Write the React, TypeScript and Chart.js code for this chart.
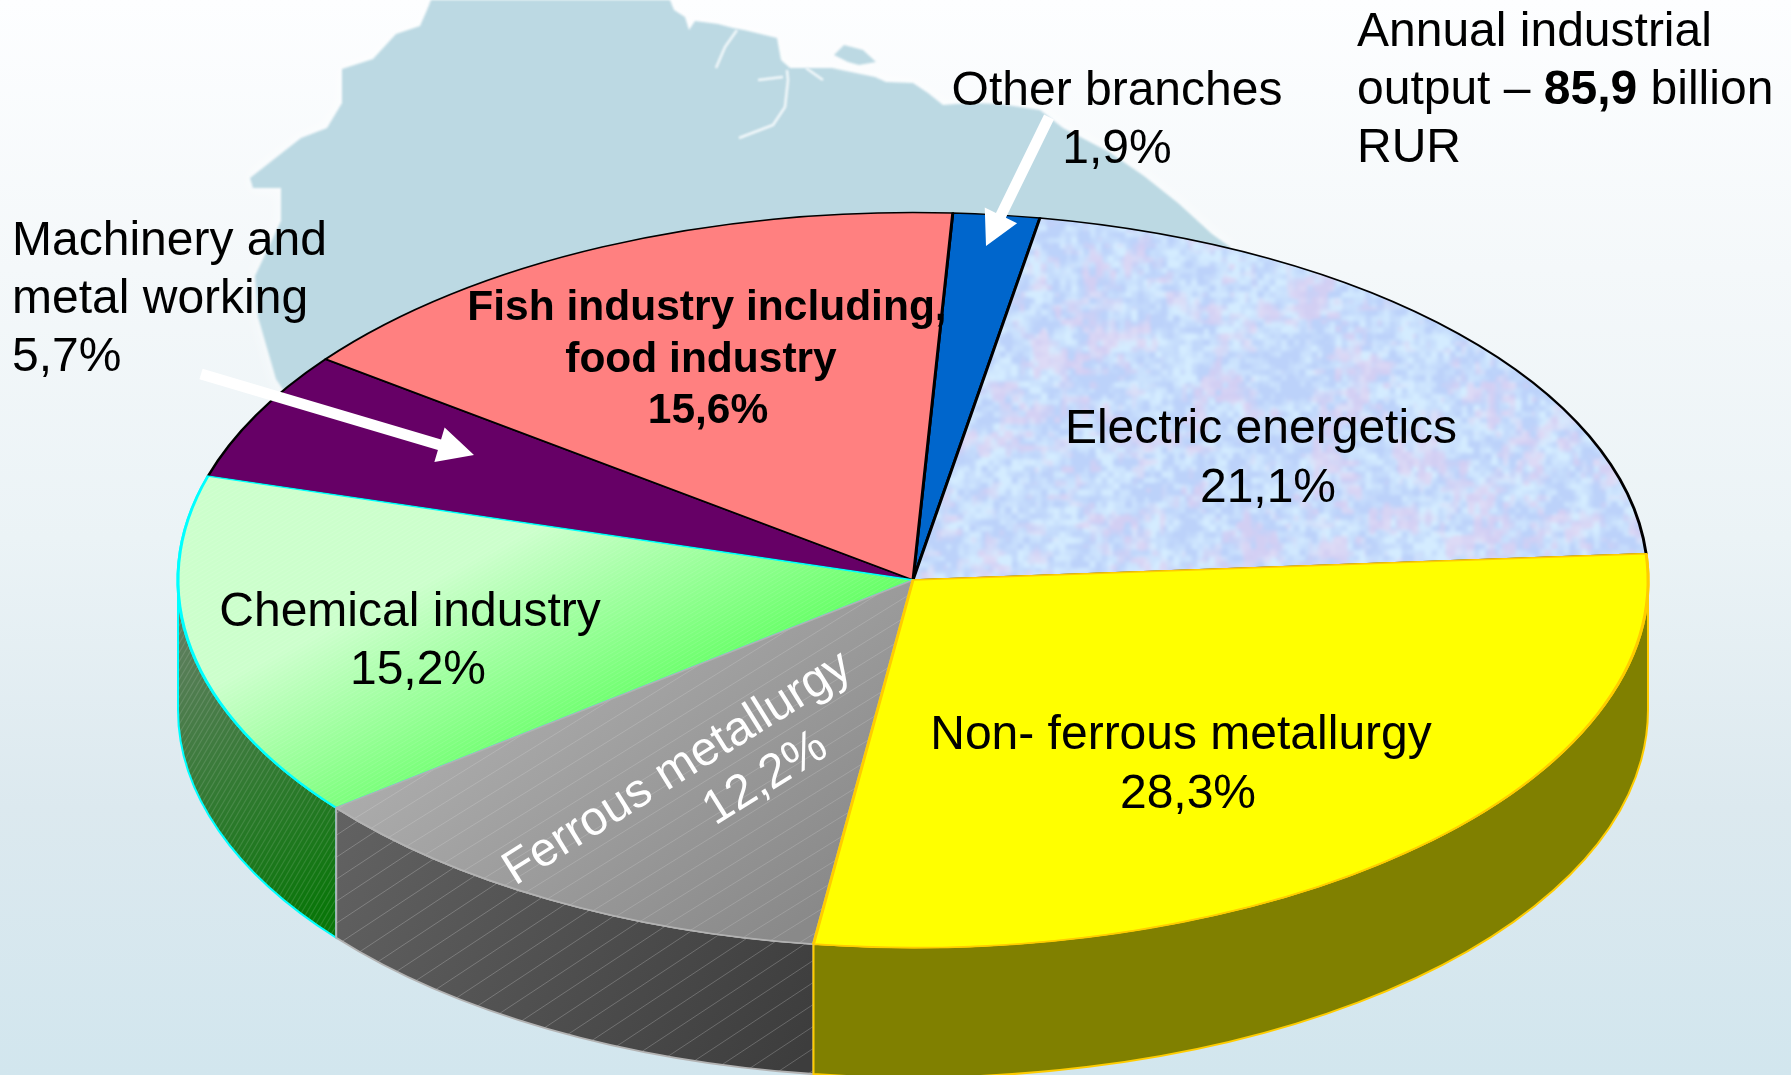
import React, { useEffect, useRef } from "react";
import { Chart, registerables } from "chart.js";

Chart.register(...registerables);

// ---- data ----
const categories = [
  "Other branches",
  "Electric energetics",
  "Non- ferrous metallurgy",
  "Ferrous metallurgy",
  "Chemical industry",
  "Machinery and metal working",
  "Fish industry including, food industry",
];
const shares = [1.9, 21.1, 28.3, 12.2, 15.2, 5.7, 15.6];
const borderColors = ["#000000", "#000000", "#ffcc00", "#b2b2b2", "#00ffff", "#000000", "#000000"];
const wallColors = ["#00337f", "#5f6a80", "#808000", "#505050", "#2a7a2a", "#330033", "#804040"];
const fmt = (v: number) => v.toFixed(1).replace(".", ",") + "%";

// label lines per slice, with share appended from the data
const labelLines = [
  ["Other branches"],
  ["Electric energetics"],
  ["Non- ferrous metallurgy"],
  ["Ferrous metallurgy"],
  ["Chemical industry"],
  ["Machinery and", "metal working"],
  ["Fish industry including,", "food industry"],
];

// ---- layout (not data) ----
const W = 1791;
const H = 1075;
const CX = 913;
const CY = 580;
const RX = 735;
const SQUASH = 0.5;
const DEPTH = 130;
const FONT = '"Liberation Sans", Arial, sans-serif';

type LabelPos = { x: number[]; y: number[]; align: CanvasTextAlign; bold?: boolean; size?: number };
const labelPos: LabelPos[] = [
  { x: [1117, 1117], y: [105, 163], align: "center" },
  { x: [1261, 1268], y: [443, 502], align: "center" },
  { x: [1181, 1188], y: [749, 808], align: "center" },
  { x: [0, 0], y: [0, 0], align: "center" },
  { x: [410, 418], y: [626, 684], align: "center" },
  { x: [12, 12, 12], y: [255, 313, 371], align: "left" },
  { x: [707, 701, 708], y: [320, 372, 423], align: "center", bold: true, size: 42.5 },
];

const land: number[][] = [
  [431, 0], [427, 10], [420, 26], [396, 34], [373, 59], [342, 69], [342, 103], [327, 128], [301, 138],
  [250, 178], [253, 188], [281, 188], [281, 221], [255, 276], [258, 317], [276, 379], [290, 400],
  [1240, 400], [1230, 247], [1212, 234], [1178, 203], [1144, 176], [1109, 152], [1063, 128], [1040, 110],
  [1000, 104], [970, 103], [943, 105], [928, 93], [913, 83], [886, 82], [875, 77], [832, 68], [790, 68],
  [781, 60], [777, 38], [744, 30], [733, 28], [718, 24], [695, 21], [689, 30], [685, 17], [674, 10], [670, 0],
];
const island: number[][] = [[834, 55], [844, 45], [863, 50], [876, 62], [859, 65], [848, 62]];
const channels: number[][][] = [
  [[737, 30], [725, 47], [716, 68]],
  [[787, 70], [788, 80], [785, 107], [773, 125], [739, 138]],
  [[758, 80], [783, 77]],
  [[806, 68], [823, 80]],
];

function hash(x: number, y: number, s: number) {
  let h = (Math.imul(x, 374761393) + Math.imul(y, 668265263) + Math.imul(s, 1013904223)) | 0;
  h = Math.imul(h ^ (h >>> 13), 1274126177);
  h = Math.imul(h ^ (h >>> 15), 2246822519);
  return ((h ^ (h >>> 16)) >>> 0) / 4294967295;
}
function vnoise(x: number, y: number, cell: number, s: number) {
  const gx = Math.floor(x / cell), gy = Math.floor(y / cell);
  let fx = x / cell - gx, fy = y / cell - gy;
  fx = fx * fx * (3 - 2 * fx);
  fy = fy * fy * (3 - 2 * fy);
  const a = hash(gx, gy, s), b = hash(gx + 1, gy, s), c = hash(gx, gy + 1, s), d = hash(gx + 1, gy + 1, s);
  return a + (b - a) * fx + (c - a) * fy + (a - b - c + d) * fx * fy;
}

function hatch(g: CanvasRenderingContext2D, x0: number, y0: number, x1: number, y1: number, slope: number, gap: number, color: string, lw = 1) {
  g.save();
  g.beginPath();
  g.rect(x0, y0, x1 - x0, y1 - y0);
  g.clip();
  g.strokeStyle = color;
  g.lineWidth = lw;
  const span = (x1 - x0) * Math.abs(slope);
  for (let c = y0 - span; c < y1 + span; c += gap) {
    g.beginPath();
    g.moveTo(x0, c + (x1 - x0) * slope);
    g.lineTo(x1, c);
    g.stroke();
  }
  g.restore();
}

function offscreen(paint: (g: CanvasRenderingContext2D) => void) {
  const c = document.createElement("canvas");
  c.width = W;
  c.height = H;
  paint(c.getContext("2d")!);
  return c;
}

// Fill painted in screen pixels; transform undoes the pie's vertical squash
function screenPattern(ctx: CanvasRenderingContext2D, paint: (g: CanvasRenderingContext2D) => void) {
  const p = ctx.createPattern(offscreen(paint), "no-repeat")!;
  p.setTransform(new DOMMatrix().translate(CX, CY).scale(1, 1 / SQUASH).translate(-CX, -CY));
  return p;
}

function paintElectric(g: CanvasRenderingContext2D) {
  const x0 = 880, y0 = 190, w = 790, h = 420;
  const tmp = document.createElement("canvas");
  tmp.width = w;
  tmp.height = h;
  const t2 = tmp.getContext("2d")!;
  const img = t2.createImageData(w, h);
  for (let j = 0; j < h; j++) {
    for (let i = 0; i < w; i++) {
      const x = x0 + i, y = y0 + j;
      const n = 0.55 * vnoise(x, y, 6, 1) + 0.45 * vnoise(x, y, 17, 2);
      const m = 0.45 * vnoise(x, y, 7, 3) + 0.55 * vnoise(x, y, 26, 4);
      const pink = Math.min(0.55, Math.max(0, (m - 0.52) * 2.4));
      const t = Math.min(1, Math.max(0, (n - 0.3) * 2.2));
      let r = 188 + (212 - 188) * t, gg = 210 + (236 - 210) * t, b = 250 + (255 - 250) * t;
      r += (228 - r) * pink;
      gg += (204 - gg) * pink;
      b += (238 - b) * pink;
      const k = (j * w + i) * 4;
      img.data[k] = r;
      img.data[k + 1] = gg;
      img.data[k + 2] = b;
      img.data[k + 3] = 255;
    }
  }
  t2.putImageData(img, 0, 0);
  g.fillStyle = "#c4d6f8";
  g.fillRect(x0, y0, w, h);
  g.filter = "blur(1.5px)";
  g.drawImage(tmp, x0, y0);
  g.filter = "none";
}

function paintChemical(g: CanvasRenderingContext2D) {
  const lg = g.createLinearGradient(563, 516, 655, 706);
  lg.addColorStop(0, "#ccffcc");
  lg.addColorStop(1, "#66ff66");
  g.fillStyle = lg;
  g.fillRect(0, 0, W, H);
  hatch(g, 170, 470, 920, 820, 0.6, 4, "rgba(255,255,255,0.10)");
}

function paintFerrous(g: CanvasRenderingContext2D) {
  const lg = g.createLinearGradient(340, 810, 580, 1107);
  lg.addColorStop(0, "#ababab");
  lg.addColorStop(1, "#898989");
  g.fillStyle = lg;
  g.fillRect(0, 0, W, H);
  hatch(g, 320, 560, 920, 960, 0.62, 20, "rgba(255,255,255,0.16)");
}

function wallFill(ctx: CanvasRenderingContext2D, index: number) {
  if (categories[index] === "Ferrous metallurgy") {
    return ctx.createPattern(offscreen((g) => {
      const lg = g.createLinearGradient(330, 800, 810, 1040);
      lg.addColorStop(0, "#636363");
      lg.addColorStop(1, "#3d3d3d");
      g.fillStyle = lg;
      g.fillRect(0, 0, W, H);
      hatch(g, 320, 780, 820, 1075, 0.66, 22, "rgba(255,255,255,0.22)");
    }), "no-repeat")!;
  }
  if (categories[index] === "Chemical industry") {
    return ctx.createPattern(offscreen((g) => {
      const lg = g.createLinearGradient(180, 600, 340, 900);
      lg.addColorStop(0, "#667f66");
      lg.addColorStop(1, "#0a760a");
      g.fillStyle = lg;
      g.fillRect(0, 0, W, H);
      hatch(g, 170, 560, 340, 960, 1.7, 9, "rgba(255,255,255,0.12)", 1.2);
    }), "no-repeat")!;
  }
  return wallColors[index];
}

function drawArrow(ctx: CanvasRenderingContext2D, tx: number, ty: number, hx: number, hy: number, shaft: number, headLen: number, headW: number) {
  const a = Math.atan2(hy - ty, hx - tx);
  const L = Math.hypot(hx - tx, hy - ty);
  ctx.save();
  ctx.translate(tx, ty);
  ctx.rotate(a);
  ctx.fillStyle = "#ffffff";
  ctx.beginPath();
  ctx.moveTo(0, -shaft / 2);
  ctx.lineTo(L - headLen, -shaft / 2);
  ctx.lineTo(L - headLen, -headW / 2);
  ctx.lineTo(L, 0);
  ctx.lineTo(L - headLen, headW / 2);
  ctx.lineTo(L - headLen, shaft / 2);
  ctx.lineTo(0, shaft / 2);
  ctx.closePath();
  ctx.fill();
  ctx.restore();
}

const scenery = {
  id: "scenery",
  beforeDraw(chart: any) {
    const ctx: CanvasRenderingContext2D = chart.ctx;
    ctx.save();
    const bg = ctx.createLinearGradient(0, 0, 0, H);
    bg.addColorStop(0, "#fdfeff");
    bg.addColorStop(0.25, "#f4f8fa");
    bg.addColorStop(0.5, "#ebf3f6");
    bg.addColorStop(0.75, "#dce9ef");
    bg.addColorStop(1, "#d2e6ee");
    ctx.fillStyle = bg;
    ctx.fillRect(0, 0, W, H);
    ctx.filter = "blur(1px)";
    ctx.fillStyle = "#bcd9e3";
    ctx.shadowColor = "rgba(255,255,255,0.7)";
    ctx.shadowBlur = 14;
    for (const poly of [land, island]) {
      ctx.beginPath();
      poly.forEach((p, i) => (i ? ctx.lineTo(p[0], p[1]) : ctx.moveTo(p[0], p[1])));
      ctx.closePath();
      ctx.fill();
    }
    ctx.shadowBlur = 0;
    ctx.shadowColor = "transparent";
    ctx.strokeStyle = "#f4f9fb";
    ctx.lineWidth = 2.5;
    ctx.lineJoin = "round";
    for (const line of channels) {
      ctx.beginPath();
      line.forEach((p, i) => (i ? ctx.lineTo(p[0], p[1]) : ctx.moveTo(p[0], p[1])));
      ctx.stroke();
    }
    ctx.restore();
  },
};

const pie3d = {
  id: "pie3d",
  beforeDatasetsDraw(chart: any) {
    const ctx: CanvasRenderingContext2D = chart.ctx;
    const arcs = chart.getDatasetMeta(0).data;
    const { x: cx, y: cy, outerRadius: rx } = arcs[0].getProps(["x", "y", "outerRadius"], true);
    const ry = rx * SQUASH;
    ctx.save();
    // back to front, so that each slice's edge colour shows as in the picture
    for (let i = arcs.length - 1; i >= 0; i--) {
      const { startAngle, endAngle } = arcs[i].getProps(["startAngle", "endAngle"], true);
      const a0 = Math.max(startAngle, 0);
      const a1 = Math.min(endAngle, Math.PI);
      if (a1 <= a0) continue;
      ctx.beginPath();
      ctx.ellipse(cx, cy, rx, ry, 0, a0, a1);
      ctx.ellipse(cx, cy + DEPTH, rx, ry, 0, a1, a0, true);
      ctx.closePath();
      ctx.fillStyle = wallFill(ctx, i);
      ctx.fill();
      ctx.strokeStyle = borderColors[i];
      ctx.lineWidth = 2;
      ctx.stroke();
    }
    ctx.restore();
    // the library's own arcs are drawn squashed to an ellipse
    ctx.save();
    ctx.translate(cx, cy);
    ctx.scale(1, SQUASH);
    ctx.translate(-cx, -cy);
  },
  afterDatasetsDraw(chart: any) {
    const ctx: CanvasRenderingContext2D = chart.ctx;
    const arcs = chart.getDatasetMeta(0).data;
    // repaint so coloured edges overlap in the reference's order
    ["Chemical industry", "Ferrous metallurgy", "Non- ferrous metallurgy"].forEach((name) => {
      arcs[categories.indexOf(name)].draw(ctx);
    });
    ctx.restore();
  },
  afterDraw(chart: any) {
    const ctx: CanvasRenderingContext2D = chart.ctx;
    ctx.save();
    ctx.textBaseline = "alphabetic";
    ctx.fillStyle = "#000000";
    categories.forEach((_, i) => {
      const pos = labelPos[i];
      if (categories[i] === "Ferrous metallurgy") return;
      const lines = [...labelLines[i], fmt(shares[i])];
      ctx.font = `${pos.bold ? "bold " : ""}${pos.size ?? 48}px ${FONT}`;
      ctx.textAlign = pos.align;
      lines.forEach((t, k) => ctx.fillText(t, pos.x[k], pos.y[k]));
    });
    // rotated white label on the grey slice
    const fi = categories.indexOf("Ferrous metallurgy");
    ctx.fillStyle = "#ffffff";
    ctx.font = `48px ${FONT}`;
    ctx.textAlign = "left";
    ctx.save();
    ctx.translate(515, 886);
    ctx.rotate((-32 * Math.PI) / 180);
    ctx.fillText(labelLines[fi][0], 0, 0);
    ctx.restore();
    ctx.save();
    ctx.translate(715, 826);
    ctx.rotate((-32 * Math.PI) / 180);
    ctx.fillText(fmt(shares[fi]), 0, 0);
    ctx.restore();

    // headline text
    ctx.fillStyle = "#000000";
    ctx.fillText("Annual industrial", 1357, 46);
    let x = 1357;
    ctx.fillText("output – ", x, 104);
    x += ctx.measureText("output – ").width;
    ctx.font = `bold 48px ${FONT}`;
    ctx.fillText("85,9", x, 104);
    x += ctx.measureText("85,9").width;
    ctx.font = `48px ${FONT}`;
    ctx.fillText(" billion", x, 104);
    ctx.fillText("RUR", 1357, 162);

    drawArrow(ctx, 201, 374, 474, 455, 11, 36, 36);
    drawArrow(ctx, 1049, 117, 986, 246, 11, 34, 36);
    ctx.restore();
  },
};

export default function App() {
  const ref = useRef<HTMLCanvasElement>(null);
  useEffect(() => {
    document.body.style.margin = "0";
    document.body.style.overflow = "hidden";
    const canvas = ref.current!;
    const ctx = canvas.getContext("2d")!;
    const fills: (string | CanvasPattern)[] = [
      "#0066cc",
      screenPattern(ctx, paintElectric),
      "#ffff00",
      screenPattern(ctx, paintFerrous),
      screenPattern(ctx, paintChemical),
      "#660066",
      "#ff8080",
    ];
    const chart = new Chart(canvas, {
      type: "pie",
      data: {
        labels: categories,
        datasets: [
          {
            data: shares,
            backgroundColor: fills,
            borderColor: borderColors,
            borderWidth: 3,
            borderJoinStyle: "round",
          } as any,
        ],
      },
      options: {
        animation: false,
        responsive: false,
        rotation: 3.1,
        radius: RX,
        layout: { padding: { left: CX * 2 - W, top: CY * 2 - H } },
        plugins: { legend: { display: false }, tooltip: { enabled: false } },
      } as any,
      plugins: [scenery, pie3d],
    });
    return () => chart.destroy();
  }, []);
  return <canvas ref={ref} width={W} height={H} style={{ display: "block", width: W, height: H }} />;
}
